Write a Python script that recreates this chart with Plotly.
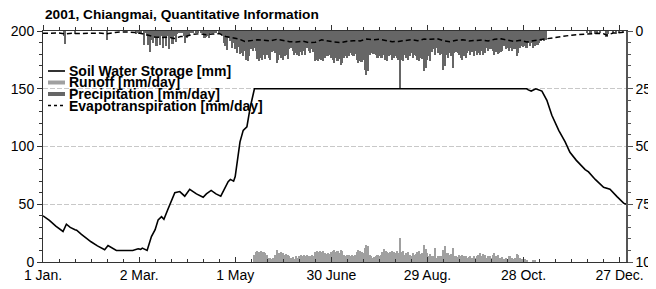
import plotly.graph_objects as go

# ---------------- data ----------------
tick_days = [0, 60, 120, 180, 240, 300, 360]
tick_labels = ["1 Jan.", "2 Mar.", "1 May", "30 June", "29 Aug.", "28 Oct.", "27 Dec."]

# daily precipitation [mm/day], one list per month
p_jan = [0,0,0,0,0,0,0,0,0,0, 0,0,0,2,5.5,0,0,0,0,0, 1.5,0,0,0,0,0,0,0,0,0, 0]
p_feb = [0,0,0,0,0,0,0,0,0,3.8, 0,0,0,0,0,0,0,0,0,0, 0,0,0,0,0,0,0,1.5]
p_mar = [0.5,1.5,1,0,5.9,1,2,6,9.1,4, 5.2,3,6.6,3,5.9,2,7.4,3,6.6,2,
         7.6,3,5.6,2,4.8,1.5,1,0.5,1,2, 5.2]
p_apr = [3,2,0.5,1,0.5,0,1,0.5,0,0.5, 1,3,2.5,2,3,0.5,1,0.5,1,0,
         0.5,1.5,2.3,5,6.6,8.1,3,4.5,7.4,5]
p_may = [8,9.5,7,10,9.5,11,8.5,12.4,12.8,11, 8,8.8,7.4,8.5,12,13.1,11.7,12.4,10.5,12,
         10.2,11.5,12.4,9,8.8,9.5,13.9,12.5,10.2,11.5, 12.4]
p_jun = [11,10.2,12,8,7.4,8.8,10.2,9.5,10.2,10.9, 9,10.2,8.8,10.5,7.4,8.8,9.5,7.8,9,13.1,
         12.5,13.1,12,12.4,13.1,11.7,10.9,11,10.5,11.7]
p_jul = [12.4,13.9,11.7,13.1,12,14.6,14,11.7,10.9,11.5, 10.9,9.5,10.5,10.9,9.8,12.4,13.9,12.8,13.5,12.4,
         16.7,18.9,17.5,10.2,9.5,10,9.8,10.2,11.7,10.9, 11.5]
p_aug = [11.7,10.2,12.4,13.1,11,10.2,12.4,11.7,11,11.7, 12.5,24.7,12.4,13.1,10.2,11.7,12.4,10.9,9.5,11.7,
         10.2,10.9,12.4,13.1,11.7,12,17.5,16,12.4,10.9, 13.1]
p_sep = [9,8,10.2,7.4,9.5,10.2,9.8,16.7,15,10.2, 11.7,9.5,10.9,16,9.5,9,9.5,10.5,11.7,12.4,
         10.9,11.5,9.5,8.8,10.2,9,10.9,8.8,10.2,9.5]
p_oct = [10.2,8.8,10.2,9.5,7.4,8.8,8,7.6,8.8,10.2, 9,9.8,9.5,9,8.8,6.6,8,7.4,8.8,7.4,
         8.8,8,7.6,10.9,9.5,7.4,6.6,7,6.6,7.4, 5.2]
p_nov = [6.6,5.2,7.4,6.6,5.9,6,5.2,4.5,3.8,4.5, 3.8,0,0,0,0,0,0,0,0,0, 0,0,0,0,0,0,0,0,0,0]
p_dec = [0,0,0,0,0,0,0.8,0,1,0, 0,1.5,1,0,0.5,0,0,0,2.5,1.5, 0,0,1,0,1.2,0,0.8,0,0.6,0, 0]

# daily runoff [mm/day], one list per month
r_jan = [0]*31
r_feb = [0]*28
r_mar = [0]*31
r_apr = [0]*30
r_may = [0,0,0,0,0,0,0,0,0,0, 0,0,6.3,9,9.8,8.3,9.1,8.3,9,7.8,
         6.3,3.4,3.4,3,3.4,6,10.6,8,7.8,9, 7.8]
r_jun = [6.3,7.2,6.3,4.9,3.4,4.2,3,4.9,3.4,4.9, 6.3,5.5,6.3,5,6.3,5.5,4.9,6.3,5.5,8.3,
         9.8,8.3,9.1,8.3,9.8,7.8,7,7.8,7.2,8.3]
r_jul = [9.1,10.6,8.3,9.8,7.8,10.6,9.1,6.3,5.5,6.3, 6.3,5.5,6.3,5.5,6.3,8.3,10.6,9.1,8.3,7.8,
         12.5,14.9,13.5,6.3,4.9,3.4,4.2,5.5,6.3,4.9, 6.3]
r_aug = [8.3,11.5,9.8,8.3,7.8,8.3,9.1,8.3,7.8,9.1, 8,20.7,8.3,9.1,6.3,7.8,8.3,6.3,5.5,7.8,
         6.3,7.2,8.3,9.1,7.2,7.8,15,11,7.8,5.5, 7.2]
r_sep = [5,4.9,12,3.4,4.9,5.5,4.9,10.6,13.5,7.8, 7.8,6.3,7.2,12,5.5,4.9,4.2,6.3,5.5,6.3,
         4.9,5.5,3.4,4.2,4.9,3.4,5.5,3.4,4.9,6.3]
r_oct = [7.8,5.5,7.2,6.3,3.4,5.5,4.9,3.4,6.3,7.8, 4.9,6.3,3.4,3.4,4.2,2.8,3.4,2.5,4.9,5.5,
         3.4,2.8,3.4,7.2,6.3,3.4,2.5,2.8,2.8,2, 0]
r_nov = [0,0,2,2,0,0,0,0,0,0, 0,0,0,0,0,0,0,0,0,0, 0,0,0,0,0,0,0,0,0,0]
r_dec = [0]*31

# evapotranspiration [mm/day] read at these days
et_days = [0,5,10,14,18,22,26,30,35,40,45,50,55,58,62,66,70,74,78,82,86,90,94,98,102,106,110,
           114,118,122,126,130,134,138,142,146,150,154,158,162,166,170,174,178,182,186,190,194,
           198,202,206,210,214,218,222,226,230,234,238,242,246,250,254,258,262,266,270,274,278,
           282,286,290,294,298,302,306,310,314,318,322,326,330,334,338,342,346,350,352,356,360,364]
et_vals = [1.0,1.0,0.9,1.3,1.0,1.1,1.0,0.9,0.9,1.2,0.6,0.4,0.4,0.6,1.2,1.8,2.6,2.8,2.7,3.2,2.4,
           2.2,1.4,1.2,1.6,1.3,1.1,2.4,2.9,3.4,4.5,4.2,3.8,4.0,4.3,3.6,4.2,4.6,4.8,4.4,5.0,4.9,
           3.8,4.4,4.8,5.0,4.4,4.2,4.3,3.5,3.8,3.6,4.2,4.6,4.5,4.0,3.8,4.2,3.5,3.6,3.3,4.2,4.6,
           4.0,3.8,4.3,4.2,3.9,4.3,3.6,3.4,4.0,4.5,4.0,4.8,4.2,3.8,3.2,2.8,2.5,2.2,1.8,1.6,1.4,
           1.2,1.0,1.2,1.8,0.9,0.7,0.5]

# soil water storage [mm] read at these days
sw_days = [0,4,8,12.5,14.6,17,20,21,24,27,30,34,38.5,40.6,43,45.8,56,59.4,61,62,65,67.7,70,71.9,
           74,75.5,78,80,82.3,85.4,88.5,91.6,95.8,100,102,105,108,111,113.8,115.6,117,119,120,
           122,123,125,127.3,129.4,131,132,302,303,304.8,307.7,311.5,314.6,317.7,322,326,329,
           333,338.5,340.6,344.8,350,354,358.4,362.5,364]
sw_vals = [40,36,31,26.4,32.7,30,28,27.5,24,20.7,17.5,14,10.6,14.3,12,10,10,11.4,11,12,10,22,28,
           36.5,39.3,37,45.7,53,60,61,57,63,59,56,59,62,59,57,64,69.5,71.5,70,74,94,104,114,117,
           134,145.7,150,150,149,148,150,148,140,127,114,104,95,88,80,78,71.5,64.6,63,56.6,51,50]

precip = p_jan + p_feb + p_mar + p_apr + p_may + p_jun + p_jul + p_aug + p_sep + p_oct + p_nov + p_dec
runoff = r_jan + r_feb + r_mar + r_apr + r_may + r_jun + r_jul + r_aug + r_sep + r_oct + r_nov + r_dec
days = list(range(len(precip)))

# ---------------- figure ----------------
FONT = "Liberation Sans, Arial, sans-serif"
OFFX, OFFY = 8, 8               # where the page places the figure (body margin)
W, H = 656 - OFFX, 289 - OFFY   # figure size
L, R, T, B = 43 - OFFX, 626 - OFFX, 31 - OFFY, 262 - OFFY   # plot area inside the figure


def px_x(px):
    return (px - OFFX - L) / (R - L)


def px_y(py):
    return (B - (py - OFFY)) / (B - T)


fig = go.Figure()
fig.add_trace(go.Bar(x=days, y=runoff, width=1, marker=dict(color="#a0a0a0", line=dict(width=0)),
                     xaxis="x", yaxis="y", name="Runoff [mm/day]"))
fig.add_trace(go.Scatter(x=sw_days, y=sw_vals, mode="lines", line=dict(color="black", width=1.6),
                         xaxis="x", yaxis="y", name="Soil Water Storage [mm]"))
fig.add_trace(go.Bar(x=days, y=precip, width=1, marker=dict(color="#666666", line=dict(width=0)),
                     xaxis="x2", yaxis="y2", name="Precipitation [mm/day]"))
fig.add_trace(go.Scatter(x=et_days, y=et_vals, mode="lines",
                         line=dict(color="black", width=1.5, dash="5px,3px"),
                         xaxis="x2", yaxis="y2", name="Evapotranspiration [mm/day]"))

tickfont = dict(family=FONT, size=14, color="black")
fig.update_layout(
    width=W, height=H,
    margin=dict(l=L, r=W - R, t=T, b=H - B, pad=0, autoexpand=False),
    plot_bgcolor="white", paper_bgcolor="white",
    showlegend=False, barmode="overlay", bargap=0,
    xaxis=dict(range=[0, 364], tickmode="array", tickvals=tick_days, ticktext=tick_labels,
               ticks="inside", ticklen=5, tickcolor="#333", showline=True, linecolor="#333",
               linewidth=1, showgrid=False, zeroline=False, tickfont=tickfont, automargin=False,
               minor=dict(tickmode="linear", tick0=0, dtick=10, ticks="inside", ticklen=3,
                          tickcolor="#333")),
    xaxis2=dict(range=[0, 364], overlaying="x", side="top", tickmode="linear", tick0=0, dtick=60,
                ticks="outside", ticklen=5, tickcolor="#333", showticklabels=False,
                showline=True, linecolor="#333", linewidth=1, showgrid=False, zeroline=False,
                automargin=False,
                minor=dict(tickmode="linear", tick0=0, dtick=10, ticks="outside", ticklen=3,
                           tickcolor="#333")),
    yaxis=dict(range=[0, 200], tickmode="array", tickvals=[0, 50, 100, 150, 200],
               ticks="outside", ticklen=5, tickcolor="#333", showline=True, linecolor="#333",
               linewidth=1, showgrid=True, gridcolor="#c8c8c8", griddash="5px,2px", gridwidth=1,
               zeroline=False, tickfont=tickfont, automargin=False,
               minor=dict(tickmode="linear", tick0=0, dtick=10, ticks="outside", ticklen=3,
                          tickcolor="#333")),
    yaxis2=dict(range=[100, 0], overlaying="y", side="right", tickmode="array",
                tickvals=[0, 25, 50, 75, 100], ticks="outside", ticklen=5, tickcolor="#555",
                showline=True, linecolor="#555", linewidth=1.5, showgrid=False, zeroline=False,
                tickfont=tickfont, automargin=False,
                minor=dict(tickmode="linear", tick0=0, dtick=5, ticks="outside", ticklen=3,
                           tickcolor="#555")),
)

# title
fig.add_annotation(xref="paper", yref="paper", x=0, y=px_y(14.5), xanchor="left", yanchor="middle",
                   text="<b>2001, Chiangmai, Quantitative Information</b>", showarrow=False,
                   font=dict(family=FONT, size=13.7, color="black"))

# legend (drawn manually to reproduce its tight spacing)
legend_items = [
    ("Soil Water Storage [mm]", dict(color="black", width=1.6)),
    ("Runoff [mm/day]", dict(color="#a0a0a0", width=4)),
    ("Precipitation [mm/day]", dict(color="#666666", width=4)),
    ("Evapotranspiration [mm/day]", dict(color="black", width=1.5, dash="3px,3px")),
]
row_y = [71, 82.5, 94, 105.5]
for (label, ln), yy in zip(legend_items, row_y):
    fig.add_shape(type="line", xref="paper", yref="paper", x0=px_x(48), x1=px_x(65),
                  y0=px_y(yy), y1=px_y(yy), line=ln, layer="above")
    fig.add_annotation(xref="paper", yref="paper", x=px_x(67), y=px_y(yy), xanchor="left",
                       yanchor="middle", text="<b>" + label + "</b>", showarrow=False,
                       font=dict(family=FONT, size=14, color="black"))

fig.write_html("out.html")
